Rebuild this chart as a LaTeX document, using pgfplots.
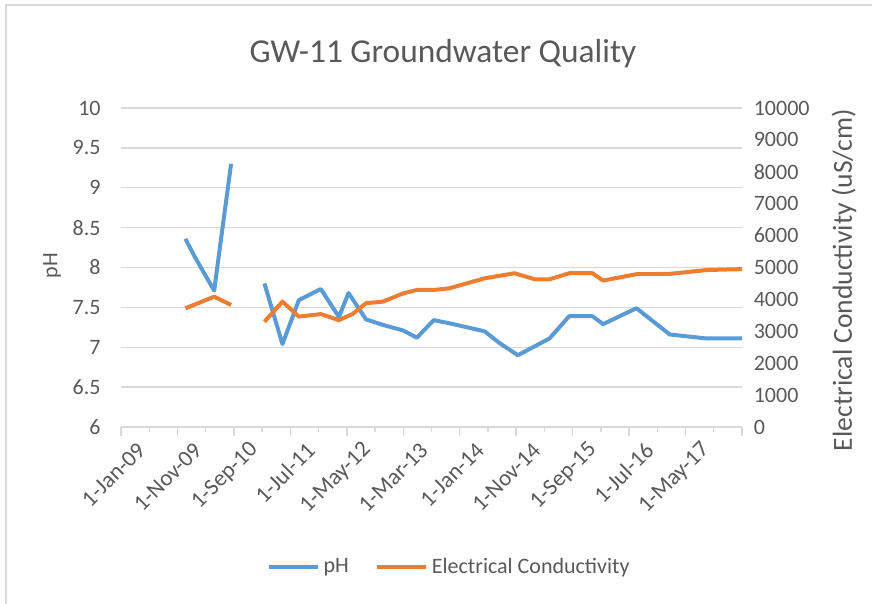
\documentclass[border=0pt]{standalone}
\usepackage{fontspec}
\setmainfont{Carlito}
\usepackage{pgfplots}
\pgfplotsset{compat=1.18}
\usepackage{pgfplotstable}
\definecolor{phblue}{HTML}{5B9BD5}
\definecolor{ecorange}{HTML}{ED7D31}
\definecolor{gridgray}{HTML}{D9D9D9}
\definecolor{txtgray}{HTML}{595959}

% x = months since 1-Jan-2009
\pgfplotstableread{
x ph
11.4 8.36
13.1 8.13
16.5 7.71
19.5 9.30
22.0 nan
25.4 7.80
28.6 7.04
31.5 7.59
35.4 7.73
38.6 7.38
40.3 7.68
43.4 7.35
46.4 7.28
50.0 7.21
52.4 7.12
55.4 7.34
58.2 7.30
64.4 7.20
67.1 7.05
70.3 6.90
75.9 7.11
79.4 7.39
83.5 7.39
85.4 7.29
91.3 7.49
97.2 7.16
103.7 7.11
110.0 7.11
}\phdata

\pgfplotstableread{
x ec
11.4 3720
16.5 4085
19.5 3824
22.0 nan
25.4 3300
28.6 3930
31.5 3460
35.4 3540
38.6 3350
41.0 3540
43.4 3880
46.4 3930
50.0 4190
52.4 4295
55.4 4295
58.2 4350
64.4 4660
69.7 4820
73.3 4630
75.9 4630
79.4 4820
83.5 4820
85.4 4590
91.3 4790
97.2 4800
103.7 4920
110.0 4950
}\ecdata

\begin{document}
\begin{tikzpicture}
\path[use as bounding box] (0pt,0pt) rectangle (436pt,302pt);
\draw[gridgray, line width=1.25pt] (3pt,0pt) -- (3pt,299.5pt) -- (436pt,299.5pt);

\begin{axis}[
  at={(60.5pt,88.5pt)}, anchor=south west,
  scale only axis, width=310.5pt, height=159.5pt,
  xmin=0, xmax=110, ymin=6, ymax=10,
  xtick={0,10,...,110},
  xticklabels={1-Jan-09,1-Nov-09,1-Sep-10,1-Jul-11,1-May-12,1-Mar-13,1-Jan-14,1-Nov-14,1-Sep-15,1-Jul-16,1-May-17,{}},
  minor xtick={5,15,...,105},
  ytick={6,6.5,...,10},
  ymajorgrids,
  major grid style={gridgray, line width=0.7pt},
  axis line style={draw=none},
  tick align=outside,
  xtick pos=bottom, ytick pos=left,
  major tick length=4.3pt, minor tick length=2.7pt,
  x tick style={gridgray, line width=0.7pt},
  y tick style={draw=none},
  /pgf/number format/assume math mode=true,
  y tick label style={font=\fontsize{11}{13}\selectfont, text=txtgray, inner sep=0pt, xshift=-5.7pt},
  x tick label style={font=\fontsize{11.5}{13}\selectfont, text=txtgray, inner sep=0pt, rotate=45, anchor=east, xshift=3.5pt, yshift=-11.2pt},
  unbounded coords=jump,
  legend columns=2,
  legend style={draw=none, fill=none, at={(0.530,-0.439)}, anchor=center,
    font=\fontsize{11}{13}\selectfont, text=txtgray,
    /tikz/every even column/.append style={column sep=11pt}},
  legend image code/.code={\draw[#1] (0pt,0pt) -- (24.5pt,0pt);},
]
\addplot[phblue, line width=2pt, line join=round] table[x=x, y=ph] {\phdata};
\addlegendentry{pH}
\addlegendimage{ecorange, line width=2pt}
\addlegendentry{Electrical Conductivity}
\end{axis}

\begin{axis}[
  at={(60.5pt,88.5pt)}, anchor=south west,
  scale only axis, width=310.5pt, height=159.5pt,
  xmin=0, xmax=110, ymin=0, ymax=10000,
  axis x line=none, axis y line*=right,
  axis line style={draw=none},
  ytick={0,1000,...,10000},
  y tick style={draw=none},
  scaled y ticks=false,
  /pgf/number format/assume math mode=true,
  y tick label style={font=\fontsize{11}{13}\selectfont, text=txtgray, inner sep=0pt, xshift=5.7pt, /pgf/number format/1000 sep={}},
  unbounded coords=jump,
]
\addplot[ecorange, line width=2pt, line join=round] table[x=x, y=ec] {\ecdata};
\end{axis}

\node[text=txtgray, font=\fontsize{16.7}{20}\selectfont, anchor=base] at (221.5pt,270.5pt) {GW-11 Groundwater Quality};
\node[text=txtgray, font=\fontsize{11}{13}\selectfont, rotate=90, anchor=center] at (26pt,169.25pt) {pH};
\node[text=txtgray, font=\fontsize{13.8}{16}\selectfont, rotate=90, anchor=center] at (422pt,162pt) {Electrical Conductivity (uS/cm)};
\end{tikzpicture}
\end{document}
